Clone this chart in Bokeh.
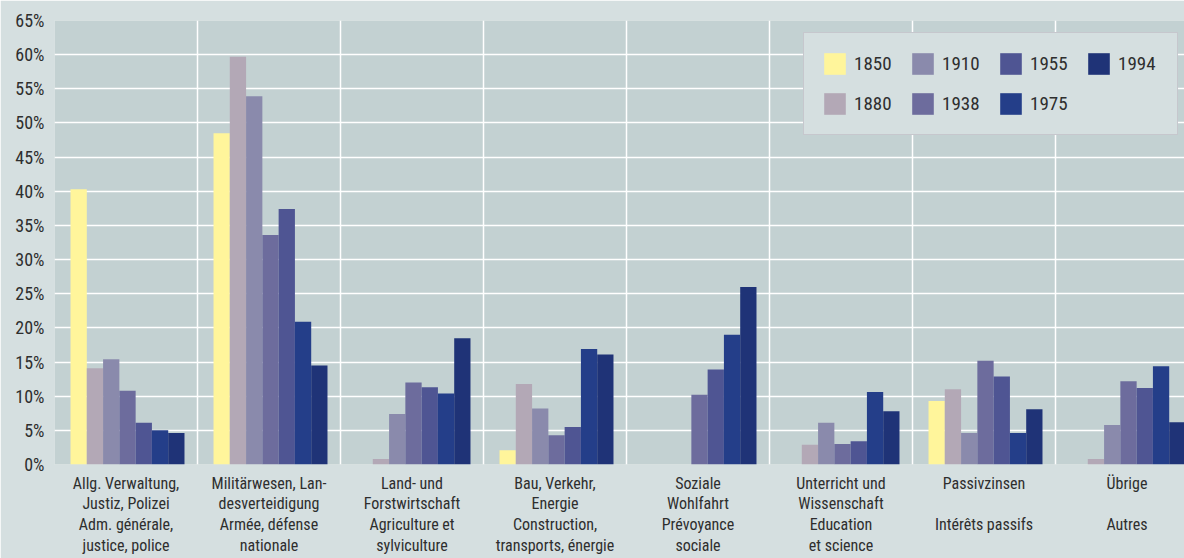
from bokeh.plotting import figure
from bokeh.models import Range1d, FixedTicker, Legend, LegendItem, PrintfTickFormatter
from bokeh.embed import file_html
from bokeh.resources import INLINE

categories = [
    "Allg. Verwaltung,\nJustiz, Polizei\nAdm. générale,\njustice, police",
    "Militärwesen, Lan-\ndesverteidigung\nArmée, défense\nnationale",
    "Land- und\nForstwirtschaft\nAgriculture et\nsylviculture",
    "Bau, Verkehr,\nEnergie\nConstruction,\ntransports, énergie",
    "Soziale\nWohlfahrt\nPrévoyance\nsociale",
    "Unterricht und\nWissenschaft\nEducation\net science",
    "Passivzinsen\n\nIntérêts passifs\n",
    "Übrige\n\nAutres\n",
]
years = ["1850", "1880", "1910", "1938", "1955", "1975", "1994"]
v1850 = [40.3, 48.5, 0.0, 2.1, 0.0, 0.0, 9.3, 0.0]
v1880 = [14.1, 59.7, 0.8, 11.8, 0.0, 2.9, 11.0, 0.8]
v1910 = [15.4, 53.9, 7.4, 8.2, 0.0, 6.1, 4.6, 5.8]
v1938 = [10.8, 33.6, 12.0, 4.3, 10.2, 3.0, 15.2, 12.2]
v1955 = [6.1, 37.4, 11.3, 5.5, 13.9, 3.4, 12.9, 11.2]
v1975 = [5.0, 20.9, 10.4, 16.9, 19.0, 10.6, 4.6, 14.4]
v1994 = [4.6, 14.5, 18.5, 16.1, 26.0, 7.8, 8.1, 6.2]
series = [v1850, v1880, v1910, v1938, v1955, v1975, v1994]
colors = ["#fff59b", "#b3a8b6", "#8a8aac", "#6d6c9d", "#4f5593", "#243e89", "#1f3377"]
y_ticks = [0, 5, 10, 15, 20, 25, 30, 35, 40, 45, 50, 55, 60, 65]

FONT = "'Roboto Condensed', 'Liberation Sans Narrow', 'DejaVu Sans Condensed', sans-serif"
TXT = "#2e2e2e"

p = figure(width=1184, height=558, output_backend="svg", toolbar_location=None,
           x_range=Range1d(0, 1130 / 143), y_range=Range1d(0, 65),
           min_border_left=54, min_border_right=0, min_border_top=20, min_border_bottom=90)
p.background_fill_color = "#c3d1d2"
p.border_fill_color = "#d5dfe0"
p.outline_line_color = None

group_start = 0.112
bw = 0.797 / len(years)
items = []
for j, (yr, vals, col) in enumerate(zip(years, series, colors)):
    xs = [i + group_start + bw * (j + 0.5) for i in range(len(categories))]
    r = p.vbar(x=xs, top=vals, width=bw, fill_color=col, line_color=None)
    items.append(LegendItem(label=yr, renderers=[r]))

# axes
p.yaxis.ticker = FixedTicker(ticks=y_ticks)
p.yaxis.formatter = PrintfTickFormatter(format="%d%%")
p.xaxis.ticker = FixedTicker(ticks=[i + 0.5 for i in range(len(categories))])
p.xaxis.major_label_overrides = {i + 0.5: c for i, c in enumerate(categories)}
for ax in (p.xaxis[0], p.yaxis[0]):
    ax.axis_line_color = None
    ax.major_tick_line_color = None
    ax.minor_tick_line_color = None
    ax.major_tick_out = 0
    ax.major_tick_in = 0
    ax.major_label_text_font = FONT
    ax.major_label_text_color = TXT
p.yaxis.major_label_text_font_size = "18px"
p.yaxis.major_label_standoff = 10
p.xaxis.major_label_text_font_size = "16px"
p.xaxis.major_label_text_line_height = 1.1
p.xaxis.major_label_standoff = 9

# grids
p.ygrid.ticker = FixedTicker(ticks=y_ticks[1:-1])
p.xgrid.ticker = FixedTicker(ticks=list(range(1, len(categories))))
p.ygrid.grid_line_color = "white"
p.xgrid.grid_line_color = "white"
p.ygrid.grid_line_width = 1.5
p.xgrid.grid_line_width = 1.5

legend = Legend(items=items, location=(749, 329), orientation="vertical", nrows=2,
                glyph_width=27, glyph_height=27, label_height=27, label_width=42,
                label_standoff=6, spacing=13, padding=17, margin=0,
                label_text_font=FONT, label_text_font_size="19px", label_text_color=TXT,
                background_fill_color="#d5dfe0", background_fill_alpha=1,
                border_line_color="#b7b0ba", border_line_width=1.5)
p.add_layout(legend)

open("out.html", "w").write(file_html(p, INLINE))
